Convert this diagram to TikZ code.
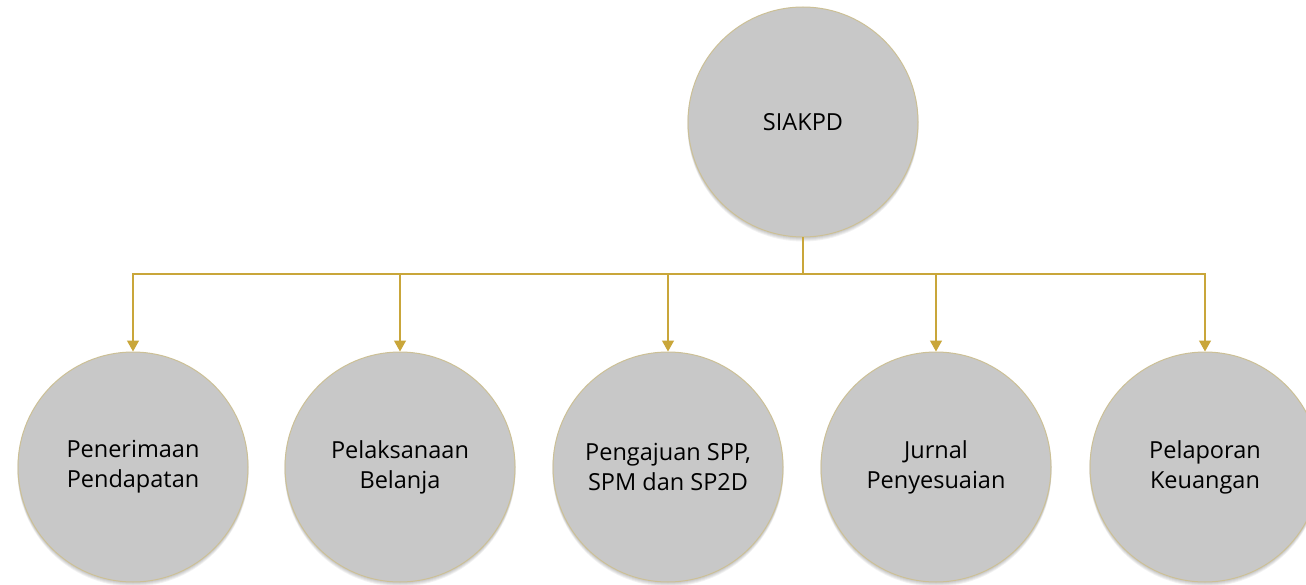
\documentclass[tikz,border=0pt]{standalone}
\usepackage{fontspec}
\setmainfont{Open Sans}
\usetikzlibrary{arrows.meta}
\definecolor{discgray}{RGB}{200,200,200}
\definecolor{discrim}{RGB}{204,192,150}
\definecolor{linkgold}{RGB}{201,166,58}
\tikzset{
  disc/.style={circle, fill=discgray, draw=discrim, line width=1pt,
    minimum size=230pt, inner sep=0pt, align=center,
    font=\fontsize{23.5}{30}\selectfont, text=black},
  link/.style={draw=linkgold, line width=1.3pt,
    -{Triangle[width=12pt,length=11pt]}},
  soft/.style={fill=black, opacity=0.05}
}
\begin{document}
\begin{tikzpicture}[x=1pt,y=-1pt]
\useasboundingbox (0,0) rectangle (1306,585);
\fill[white] (0,0) rectangle (1306,585);
% soft shadows beneath the discs
\foreach \cx/\cy in {803/122,133/467,400/467,668/467,936/467,1205/467}{
  \foreach \d in {1,2,3,4}{
    \fill[soft] (\cx,\cy+\d) circle (115.5);
  }
}
\node[disc] (root) at (803,122) {SIAKPD};
\node[disc] (c1) at (133,467) {Penerimaan\\Pendapatan};
\node[disc] (c2) at (400,467) {Pelaksanaan\\Belanja};
\node[disc] (c3) at (668,467) {Pengajuan SPP,\\SPM dan SP2D};
\node[disc] (c4) at (936,467) {Jurnal\\Penyesuaian};
\node[disc] (c5) at (1205,467) {Pelaporan\\Keuangan};
\coordinate (bus) at (803,274);
\foreach \c in {c1,c2,c3,c4,c5}{
  \draw[link] (root.south) -- (bus) -| (\c.north);
}
\end{tikzpicture}
\end{document}
